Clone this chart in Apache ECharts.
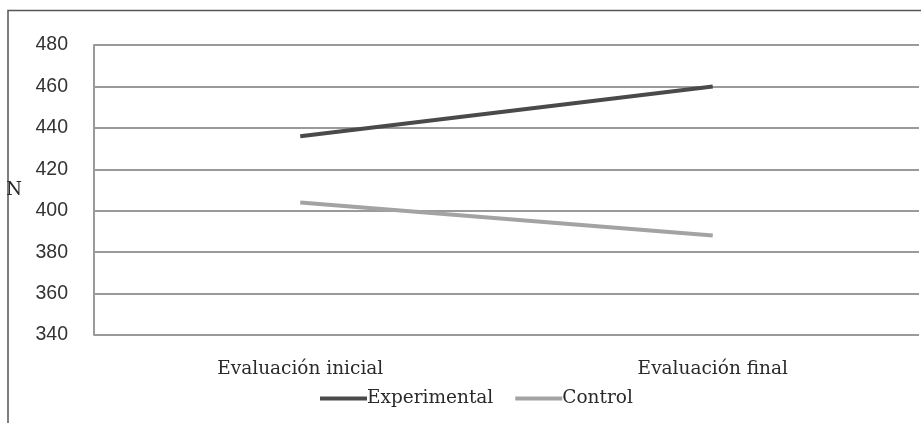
<!DOCTYPE html>
<html><head><meta charset="utf-8">
<script src="https://cdn.jsdelivr.net/npm/echarts@6/dist/echarts.min.js"></script>
<style>html,body{margin:0;padding:0;background:#fff}#c{width:921px;height:423px}</style>
</head><body><div id="c"></div>
<script>
var categories = ['Evaluación inicial', 'Evaluación final'];
var experimental = [436, 460];
var control = [404, 388];
var yTicks = [340, 360, 380, 400, 420, 440, 460, 480];
var seriesNames = ['Experimental', 'Control'];

var chart = echarts.init(document.getElementById('c'));
var serif = '"DejaVu Serif", "Liberation Serif", serif';
chart.setOption({
  animation: false,
  graphic: [{type:'rect', shape:{x:8, y:10.5, width:1000, height:600}, style:{fill:'none', stroke:'#555', lineWidth:1.5}, silent:true}],
  grid: {left: 94, right: 2, top: 45, bottom: 88},
  xAxis: {
    type: 'category', data: categories, boundaryGap: true,
    axisLine: {show: false}, axisTick: {show: false},
    axisLabel: {fontFamily: serif, fontSize: 18.5, color: '#2a2a2a', margin: 25}
  },
  yAxis: {
    type: 'value', min: yTicks[0], max: yTicks[yTicks.length-1], interval: 20,
    name: 'N', nameLocation: 'middle', nameRotate: 0, nameGap: 72,
    nameTextStyle: {fontFamily: serif, fontSize: 18, color: '#2a2a2a'},
    axisLine: {show: true, lineStyle: {color: '#9a9a9a', width: 2}},
    axisTick: {show: false},
    splitLine: {lineStyle: {color: '#9a9a9a', width: 2}},
    axisLabel: {fontFamily: '"Liberation Sans", Arial, sans-serif', fontSize: 19.5, color: '#333', margin: 26}
  },
  legend: {
    left: 315, top: 384, itemGap: 22, icon: 'rect', itemWidth: 47, itemHeight: 4,
    textStyle: {fontFamily: serif, fontSize: 18.5, color: '#2a2a2a', padding:[0,0,0,-5]},
    data: seriesNames
  },
  series: [
    {name: seriesNames[0], type: 'line', data: experimental, symbol: 'none', lineStyle: {color: '#4a4a4a', width: 4}, itemStyle: {color: '#4a4a4a'}},
    {name: seriesNames[1], type: 'line', data: control, symbol: 'none', lineStyle: {color: '#a3a3a3', width: 4}, itemStyle: {color: '#a3a3a3'}}
  ]
});
</script></body></html>
